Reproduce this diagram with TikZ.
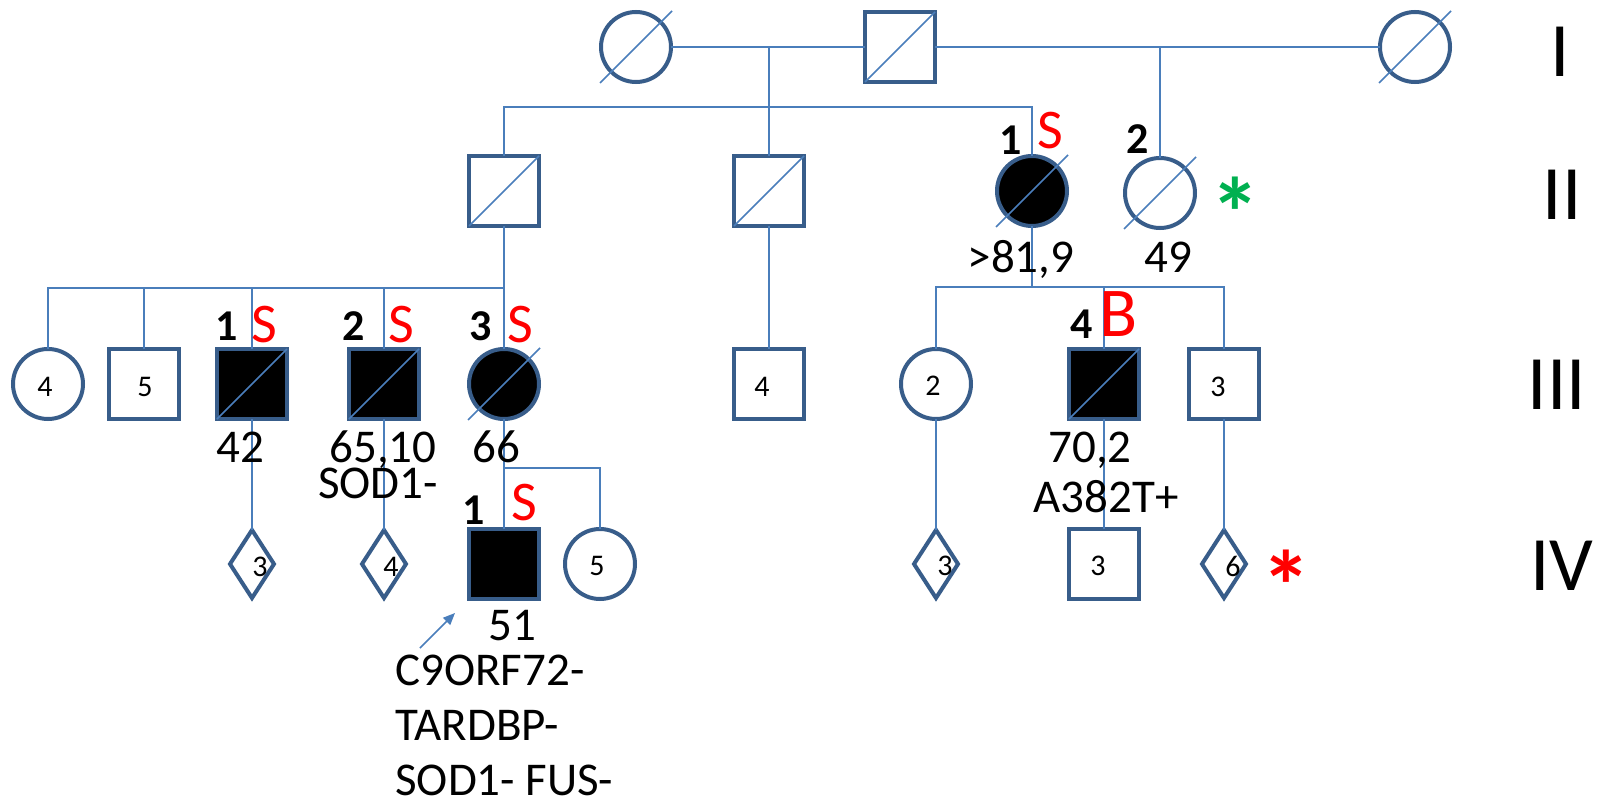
\documentclass[tikz,border=0pt]{standalone}
\usepackage{fontspec}
\setmainfont{Carlito}
\usetikzlibrary{shapes.geometric,arrows.meta,calc}
\definecolor{outl}{HTML}{385D8A}
\definecolor{connc}{HTML}{4A7EBB}
\definecolor{sred}{HTML}{FF0000}
\definecolor{sgreen}{HTML}{00B050}
\begin{document}
\begin{tikzpicture}[x=0.5pt,y=-0.5pt,
 sym/.style={draw=outl,line width=2pt,inner sep=0pt,outer sep=0pt},
 sq/.style={sym,rectangle,minimum size=35pt},
 ci/.style={sym,circle,minimum size=35pt},
 di/.style={sym,diamond,minimum width=22pt,minimum height=34pt},
 aff/.style={fill=black},
 link/.style={draw=connc,line width=0.8pt},
 slash/.style={draw=connc,line width=0.8pt},
 num/.style={font=\fontsize{15}{18}\selectfont,inner sep=0pt},
 age/.style={font=\fontsize{23.5}{27}\selectfont,inner sep=0pt,anchor=base},
 gene/.style={font=\fontsize{23.5}{27}\selectfont,inner sep=0pt,anchor=base west},
 idx/.style={font=\fontsize{22}{26}\selectfont\bfseries,inner sep=0pt},
 tagS/.style={font=\fontsize{28}{32}\selectfont,text=sred,inner sep=0pt},
 tagB/.style={font=\fontsize{35}{40}\selectfont,text=sred,inner sep=0pt},
 gen/.style={font=\fontsize{38.5}{44}\selectfont,inner sep=0pt},
 star/.style={font=\fontsize{50}{56}\selectfont\bfseries,inner sep=0pt,anchor=north},
]
\fill[white] (0,0) rectangle (1608,803);
\useasboundingbox (0,0) rectangle (1608,803);

% Generation I
\node[ci] (I1) at (636,47) {};
\node[sq] (I2) at (900,47) {};
\node[ci] (I3) at (1415,47) {};
% Generation II
\node[sq] (IIa) at (504,191) {};
\node[sq] (IIb) at (769,191) {};
\node[ci,aff] (II1) at (1032,191) {};
\node[ci] (II2) at (1160,193) {};
% Generation III
\node[ci] (IIIa) at (48,384) {};
\node[sq] (IIIb) at (144,384) {};
\node[sq,aff] (III1) at (252,384) {};
\node[sq,aff] (III2) at (384,384) {};
\node[ci,aff] (III3) at (504,384) {};
\node[sq] (IIIc) at (769,384) {};
\node[ci] (IIId) at (936,384) {};
\node[sq,aff] (III4) at (1104,384) {};
\node[sq] (IIIe) at (1224,384) {};
% Generation IV
\node[di] (IVa) at (252,564) {};
\node[di] (IVb) at (384,564) {};
\node[sq,aff] (IV1) at (504,564) {};
\node[ci] (IVc) at (600,564) {};
\node[di] (IVd) at (936,564) {};
\node[sq] (IVe) at (1104,564) {};
\node[di] (IVf) at (1224,564) {};

% slashes (deceased)
\foreach \n in {I1,I3,II1,II2,III3}
  \draw[slash] ($(\n)+(-36,36)$) -- ($(\n)+(36,-36)$);
\foreach \n in {I2,IIa,IIb,III1,III2,III4}
  \draw[slash] (\n.south west) -- (\n.north east);

% numbers inside symbols
\node[num] at ($(IIIa)+(-3,3)$) {4};
\node[num] at ($(IIIb)+(1,3)$) {5};
\node[num] at ($(IIIc)+(-7,3)$) {4};
\node[num] at ($(IIId)+(-3,2)$) {2};
\node[num] at ($(IIIe)+(-6,3)$) {3};
\node[num] at ($(IVa)+(8,3)$) {3};
\node[num] at ($(IVb)+(7,3)$) {4};
\node[num] at ($(IVc)+(-3,2)$) {5};
\node[num] at ($(IVd)+(9,2)$) {3};
\node[num] at ($(IVe)+(-6,2)$) {3};
\node[num] at ($(IVf)+(9,2)$) {6};

% connectors generation I -> II
\coordinate (mI1) at (769,47);
\coordinate (mI2) at (1160,47);
\coordinate (sII) at (769,107);
\draw[link] (I1.east) -- (I2.west);
\draw[link] (I2.east) -- (I3.west);
\draw[link] (mI1) -- (IIb.north);
\draw[link] (mI2) -- (II2.north);
\draw[link] (IIa.north) |- (sII) -| (II1.north);

% generation II -> III
\coordinate (sIIIa) at (504,288);
\coordinate (sIIIb) at (1032,287);
\draw[link] (IIa.south) -- (III3.north);
\draw[link] (IIIa.north) |- (sIIIa);
\foreach \n in {IIIb,III1,III2}
  \draw[link] (\n.north) -- (\n.north |- sIIIa);
\draw[link] (IIb.south) -- (IIIc.north);
\draw[link] (II1.south) -- (sIIIb);
\draw[link] (IIId.north) |- (sIIIb) -| (IIIe.north);
\draw[link] (III4.north) -- (III4.north |- sIIIb);

% generation III -> IV
\coordinate (sIV) at (504,468);
\draw[link] (III1.south) -- (IVa.north);
\draw[link] (III2.south) -- (IVb.north);
\draw[link] (III3.south) -- (IV1.north);
\draw[link] (sIV) -| (IVc.north);
\draw[link] (IIId.south) -- (IVd.north);
\draw[link] (III4.south) -- (IVe.north);
\draw[link] (IIIe.south) -- (IVf.north);

% proband arrow
\coordinate (arT) at (420,648);
\coordinate (arH) at (455,613);
\draw[link,-{Triangle[length=6pt,width=5pt]}] (arT) -- (arH);

% ID labels and tags
\node[idx] at (1011,140) {1};
\node[tagS] at (1050,131) {S};
\node[idx] at (1138,139) {2};
\node[idx] at (227,326) {1};
\node[tagS] at (264,325) {S};
\node[idx] at (354,326) {2};
\node[tagS] at (401,325) {S};
\node[idx] at (481,326) {3};
\node[tagS] at (520,325) {S};
\node[idx] at (1082,324) {4};
\node[tagB] at (1119,314) {B};
\node[idx] at (474,510) {1};
\node[tagS] at (524,503) {S};

% ages and genetics
\node[age] at (1021,272) {>81,9};
\node[age] at (1168,272) {49};
\node[age] at (240,462) {42};
\node[age] at (383,462) {65,10};
\node[age] at (496,462) {66};
\node[age] at (378,498) {SOD1-};
\node[age] at (1090,462) {70,2};
\node[age] at (1106,512) {A382T+};
\node[age] at (512,640) {51};
\node[gene] at (395,685) {C9ORF72-};
\node[gene] at (395,740) {TARDBP-};
\node[gene] at (395,795) {SOD1- FUS-};

% asterisks
\node[star,text=sgreen] at (1235,177) {*};
\node[star,text=sred] at (1286,550) {*};

% generation numerals
\node[gen] at (1560,52) {I};
\node[gen] at (1562,195) {II};
\node[gen] at (1557,385) {III};
\node[gen] at (1562,566) {IV};
\end{tikzpicture}
\end{document}
